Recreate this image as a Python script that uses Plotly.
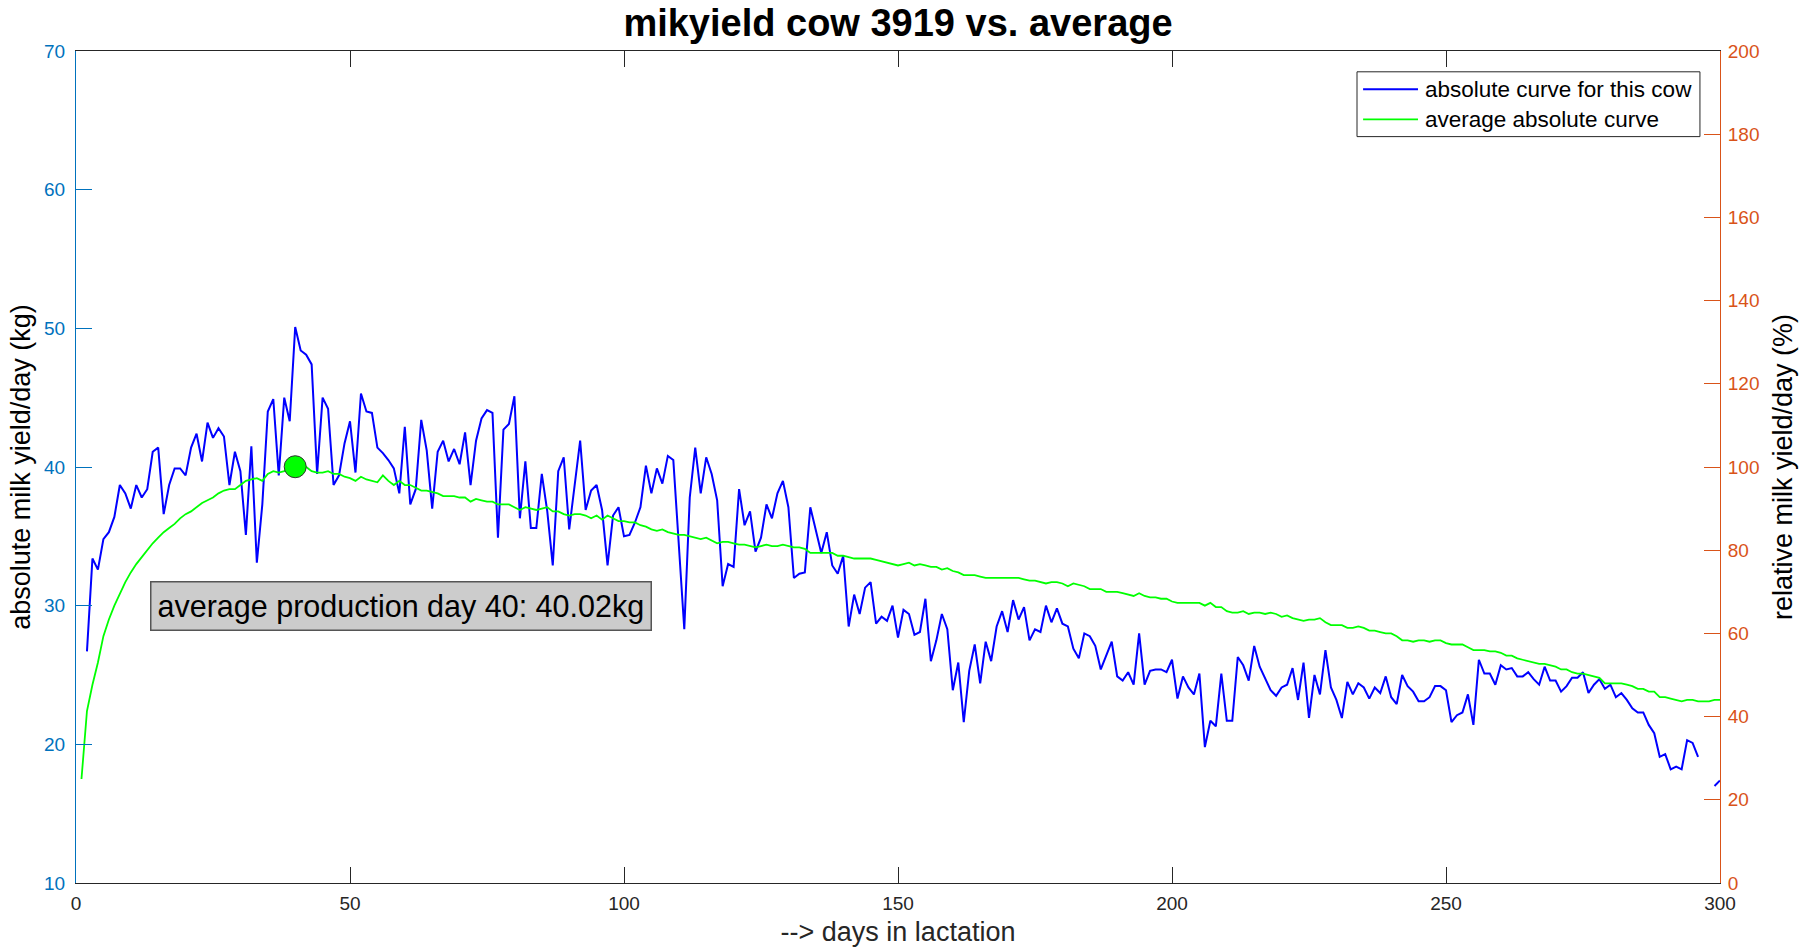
import plotly.graph_objects as go

# ---------------- data ----------------
days = list(range(1, 301))

# absolute curve for this cow (kg/day); None = no measurement
cow_yield = [
    None, 26.7, 33.4, 32.6, 34.8, 35.3, 36.4, 38.7, 38.1, 37.0,          # 1-10
    38.7, 37.8, 38.4, 41.1, 41.4, 36.6, 38.7, 39.9, 39.9, 39.4,          # 11-20
    41.4, 42.4, 40.4, 43.2, 42.1, 42.8, 42.2, 38.7, 41.1, 39.7,          # 21-30
    35.1, 41.5, 33.1, 37.3, 44.0, 44.9, 39.4, 45.0, 43.3, 50.1,          # 31-40
    48.4, 48.1, 47.4, 39.5, 45.0, 44.2, 38.7, 39.4, 41.7, 43.3,          # 41-50
    39.6, 45.3, 44.0, 43.9, 41.4, 41.0, 40.5, 39.9, 38.1, 42.9,          # 51-60
    37.3, 38.4, 43.4, 41.2, 37.0, 41.1, 41.9, 40.4, 41.3, 40.2,          # 61-70
    42.5, 38.7, 41.9, 43.5, 44.1, 43.9, 34.9, 42.7, 43.1, 45.1,          # 71-80
    36.3, 40.4, 35.6, 35.6, 39.5, 36.8, 32.9, 39.7, 40.7, 35.5,          # 81-90
    38.6, 41.9, 36.9, 38.3, 38.7, 36.9, 32.9, 36.5, 37.1, 35.0,          # 91-100
    35.1, 36.0, 37.1, 40.1, 38.1, 39.9, 38.8, 40.8, 40.5, 34.5,          # 101-110
    28.3, 37.8, 41.4, 38.1, 40.7, 39.5, 37.6, 31.4, 33.0, 32.8,          # 111-120
    38.4, 35.8, 36.8, 33.9, 34.9, 37.3, 36.3, 38.1, 39.0, 37.1,          # 121-130
    32.0, 32.3, 32.4, 37.1, 35.5, 33.8, 35.3, 32.9, 32.3, 33.6,          # 131-140
    28.5, 30.8, 29.4, 31.3, 31.7, 28.7, 29.2, 28.9, 30.0, 27.7,          # 141-150
    29.7, 29.4, 27.9, 28.1, 30.5, 26.0, 27.5, 29.4, 28.3, 23.9,          # 151-160
    25.9, 21.6, 25.3, 27.2, 24.4, 27.4, 26.0, 28.5, 29.6, 28.1,          # 161-170
    30.4, 29.0, 29.9, 27.5, 28.3, 28.1, 30.0, 28.8, 29.8, 28.7,          # 171-180
    28.5, 26.9, 26.2, 28.0, 27.8, 27.1, 25.4, 26.4, 27.4, 24.9,          # 181-190
    24.6, 25.2, 24.3, 28.0, 24.3, 25.3, 25.4, 25.4, 25.2, 26.1,          # 191-200
    23.3, 24.9, 24.1, 23.6, 25.1, 19.8, 21.7, 21.3, 25.1, 21.7,          # 201-210
    21.7, 26.3, 25.7, 24.6, 27.1, 25.6, 24.7, 23.9, 23.5, 24.1,          # 211-220
    24.3, 25.5, 23.2, 25.9, 21.9, 25.0, 23.6, 26.8, 24.1, 23.2,          # 221-230
    21.9, 24.5, 23.6, 24.4, 24.1, 23.3, 24.1, 23.7, 24.9, 23.4,          # 231-240
    22.9, 25.0, 24.2, 23.8, 23.1, 23.1, 23.4, 24.2, 24.2, 23.9,          # 241-250
    21.6, 22.1, 22.3, 23.6, 21.4, 26.1, 25.1, 25.1, 24.3, 25.7,          # 251-260
    25.4, 25.5, 24.9, 24.9, 25.2, 24.7, 24.3, 25.6, 24.6, 24.6,          # 261-270
    23.8, 24.2, 24.8, 24.8, 25.2, 23.7, 24.3, 24.7, 24.0, 24.3,          # 271-280
    23.4, 23.7, 23.2, 22.6, 22.3, 22.3, 21.4, 20.8, 19.1, 19.3,          # 281-290
    18.2, 18.4, 18.2, 20.3, 20.1, 19.1, None, None, 17.0, 17.4,          # 291-300
]

# average absolute curve (kg/day)
avg_yield = [
    17.5, 22.4, 24.3, 25.9, 27.8, 29.0, 30.0, 30.9, 31.7, 32.4,          # 1-10
    33.0, 33.5, 34.0, 34.5, 34.9, 35.3, 35.6, 35.9, 36.3, 36.6,          # 11-20
    36.8, 37.1, 37.4, 37.6, 37.8, 38.1, 38.3, 38.4, 38.4, 38.7,          # 21-30
    39.0, 39.1, 39.2, 39.0, 39.5, 39.7, 39.6, 39.7, 39.9, 40.02,         # 31-40
    40.0, 40.0, 39.7, 39.6, 39.6, 39.7, 39.5, 39.5, 39.3, 39.2,          # 41-50
    39.0, 39.3, 39.1, 39.0, 38.9, 39.4, 39.0, 38.7, 39.0, 38.7,          # 51-60
    38.7, 38.5, 38.3, 38.3, 38.2, 38.1, 37.9, 37.9, 37.9, 37.8,          # 61-70
    37.8, 37.5, 37.7, 37.6, 37.5, 37.5, 37.3, 37.3, 37.3, 37.1,          # 71-80
    36.9, 37.1, 37.0, 36.9, 37.0, 37.1, 36.8, 36.8, 36.6, 36.5,          # 81-90
    36.6, 36.6, 36.5, 36.3, 36.5, 36.2, 36.5, 36.3, 36.1, 36.1,          # 91-100
    36.0, 36.0, 35.8, 35.7, 35.5, 35.4, 35.5, 35.3, 35.2, 35.1,          # 101-110
    35.1, 35.0, 34.9, 34.8, 34.9, 34.7, 34.5, 34.6, 34.6, 34.5,          # 111-120
    34.4, 34.4, 34.3, 34.2, 34.3, 34.4, 34.3, 34.3, 34.4, 34.3,          # 121-130
    34.2, 34.2, 34.1, 33.8, 33.8, 33.8, 33.8, 33.8, 33.6, 33.6,          # 131-140
    33.5, 33.4, 33.4, 33.4, 33.4, 33.3, 33.2, 33.1, 33.0, 32.9,          # 141-150
    33.0, 33.1, 32.9, 33.0, 32.9, 32.8, 32.8, 32.6, 32.7, 32.5,          # 151-160
    32.4, 32.2, 32.2, 32.2, 32.1, 32.0, 32.0, 32.0, 32.0, 32.0,          # 161-170
    32.0, 32.0, 31.9, 31.8, 31.8, 31.7, 31.6, 31.7, 31.7, 31.6,          # 171-180
    31.4, 31.6, 31.5, 31.4, 31.2, 31.2, 31.2, 31.0, 31.0, 31.0,          # 181-190
    30.9, 30.8, 30.7, 30.9, 30.7, 30.6, 30.6, 30.5, 30.5, 30.3,          # 191-200
    30.2, 30.2, 30.2, 30.2, 30.2, 30.0, 30.2, 29.9, 29.9, 29.6,          # 201-210
    29.5, 29.5, 29.6, 29.4, 29.5, 29.5, 29.4, 29.5, 29.4, 29.2,          # 211-220
    29.3, 29.1, 29.0, 28.9, 29.0, 29.0, 29.1, 28.8, 28.6, 28.6,          # 221-230
    28.6, 28.4, 28.4, 28.5, 28.4, 28.2, 28.2, 28.1, 28.0, 28.0,          # 231-240
    27.8, 27.5, 27.5, 27.4, 27.5, 27.5, 27.4, 27.5, 27.5, 27.3,          # 241-250
    27.2, 27.2, 27.2, 27.0, 26.8, 26.8, 26.8, 26.7, 26.7, 26.6,          # 251-260
    26.4, 26.4, 26.2, 26.1, 26.0, 25.9, 25.8, 25.8, 25.7, 25.6,          # 261-270
    25.4, 25.4, 25.2, 25.1, 25.1, 25.0, 24.9, 24.8, 24.4, 24.4,          # 271-280
    24.4, 24.4, 24.3, 24.2, 24.0, 24.0, 23.8, 23.8, 23.4, 23.4,          # 281-290
    23.3, 23.2, 23.1, 23.2, 23.2, 23.1, 23.1, 23.1, 23.2, 23.2,          # 291-300
]

highlight_day = [40]
highlight_value = [40.02]

x_ticks = [0, 50, 100, 150, 200, 250, 300]
y_left_ticks = [10, 20, 30, 40, 50, 60, 70]
y_right_ticks = [0, 20, 40, 60, 80, 100, 120, 140, 160, 180, 200]

title_text = "mikyield cow 3919 vs. average"
annot_text = "average production day 40: 40.02kg"
series_names = ["absolute curve for this cow", "average absolute curve"]
series_colors = ["#0000FF", "#00FF00"]
series_widths = [2, 1.8]

# ---------------- styles ----------------
FONT = "Liberation Sans, Arial, Helvetica, sans-serif"
AX_DARK = "#262626"
LEFT_C = "#0072BD"
RIGHT_C = "#D95319"

fig = go.Figure()

fig.add_trace(go.Scatter(
    x=days, y=cow_yield, mode="lines", name=series_names[0],
    line=dict(color=series_colors[0], width=series_widths[0]), connectgaps=False,
))
fig.add_trace(go.Scatter(
    x=days, y=avg_yield, mode="lines", name=series_names[1],
    line=dict(color=series_colors[1], width=series_widths[1]),
))
fig.add_trace(go.Scatter(
    x=highlight_day, y=highlight_value, mode="markers", showlegend=False,
    marker=dict(color="#00FF00", size=22, line=dict(color="#333333", width=1)),
    hoverinfo="skip",
))
# anchor trace for the right (relative) axis
fig.add_trace(go.Scatter(
    x=[None], y=[None], yaxis="y2", showlegend=False, hoverinfo="skip", mode="lines",
))

fig.add_annotation(
    x=13.5, y=30, xref="x", yref="y", xanchor="left", yanchor="middle",
    text=annot_text, showarrow=False,
    font=dict(family=FONT, size=30.5, color="#000000"),
    bgcolor="#CCCCCC", bordercolor="#555555", borderwidth=1.5, borderpad=6,
)

# ---- legend box (MATLAB style: long line samples, compact rows) ----
LEG_X0, LEG_X1, LEG_Y0, LEG_Y1 = 0.7792, 0.9878, 0.8971, 0.975
LINE_X0, LINE_X1, TEXT_X = 0.7829, 0.8163, 0.8193
ROW_Y = [0.9541, 0.9179]
fig.add_shape(type="rect", xref="paper", yref="paper",
              x0=LEG_X0, x1=LEG_X1, y0=LEG_Y0, y1=LEG_Y1,
              line=dict(color=AX_DARK, width=1), fillcolor="white", layer="above")
for name, col, w, ry in zip(series_names, series_colors, series_widths, ROW_Y):
    fig.add_shape(type="line", xref="paper", yref="paper",
                  x0=LINE_X0, x1=LINE_X1, y0=ry, y1=ry,
                  line=dict(color=col, width=w), layer="above")
    fig.add_annotation(x=TEXT_X, y=ry, xref="paper", yref="paper",
                       xanchor="left", yanchor="middle", showarrow=False,
                       text=name, font=dict(family=FONT, size=22.5, color="#000000"))

fig.update_layout(
    width=1816, height=947,
    margin=dict(l=76, r=96, t=51, b=64, autoexpand=False),
    paper_bgcolor="white", plot_bgcolor="white",
    font=dict(family=FONT, color=AX_DARK),
    title=dict(
        text="<b>" + title_text + "</b>", x=0.5, xanchor="center",
        xref="paper", y=1 - 23 / 947, yanchor="middle",
        font=dict(family=FONT, size=38, color="#000000"),
    ),
    showlegend=False,
    xaxis=dict(
        range=[0, 300], tickvals=x_ticks, ticks="inside", ticklen=16,
        tickcolor=AX_DARK, showline=True, linecolor=AX_DARK, linewidth=1,
        mirror="ticks", showgrid=False, zeroline=False, automargin=False,
        tickfont=dict(family=FONT, size=19, color=AX_DARK),
        ticklabelstandoff=3,
        title=dict(text="--> days in lactation", standoff=11,
                   font=dict(family=FONT, size=27, color=AX_DARK)),
    ),
    yaxis=dict(
        range=[10, 70], tickvals=y_left_ticks, ticks="inside", ticklen=16,
        tickcolor=LEFT_C, showline=True, linecolor=LEFT_C, linewidth=1,
        showgrid=False, zeroline=False, automargin=False,
        tickfont=dict(family=FONT, size=19, color=LEFT_C),
        ticklabelstandoff=6,
        title=dict(text="absolute milk yield/day (kg)", standoff=5,
                   font=dict(family=FONT, size=27, color="#000000")),
    ),
    yaxis2=dict(
        range=[0, 200], tickvals=y_right_ticks, ticks="inside", ticklen=16,
        tickcolor=RIGHT_C, showline=True, linecolor=RIGHT_C, linewidth=1,
        overlaying="y", side="right", showgrid=False, zeroline=False,
        automargin=False,
        tickfont=dict(family=FONT, size=19, color=RIGHT_C),
        ticklabelstandoff=3,
        title=dict(text="relative milk yield/day (%)", standoff=14,
                   font=dict(family=FONT, size=27, color="#000000")),
    ),
)

fig.write_html(
    "out.html",
    config={"displayModeBar": False},
    post_script="document.body.style.margin='0';document.body.style.overflow='hidden';",
)
